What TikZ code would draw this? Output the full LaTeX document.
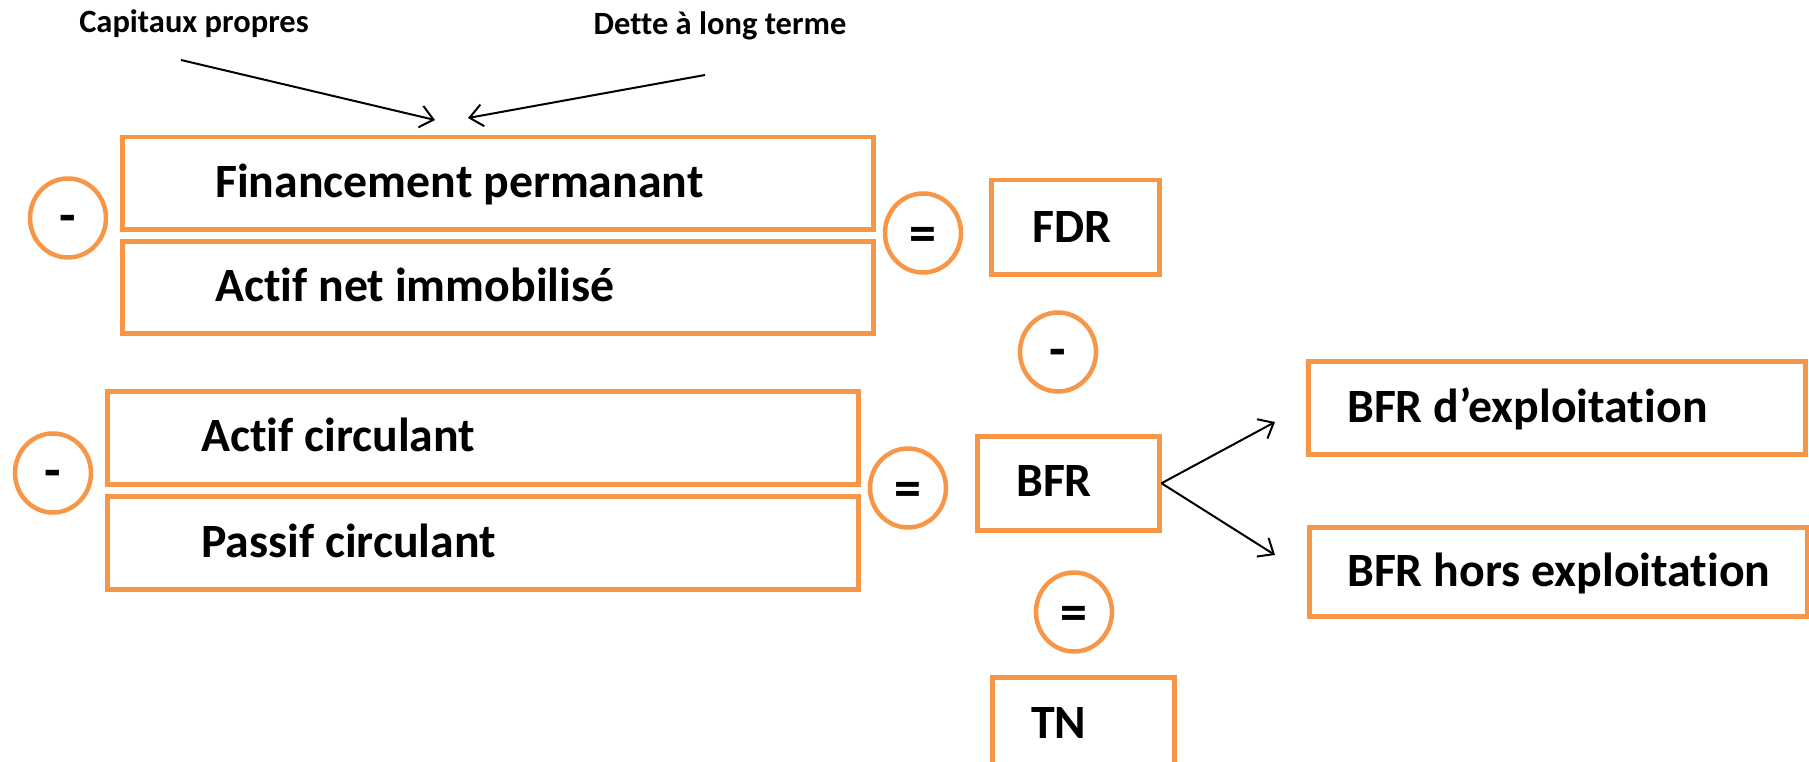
\documentclass[tikz,border=0pt]{standalone}
\usepackage{fontspec}
\setmainfont{Carlito}[Ligatures={NoCommon,NoRare,NoContextual}]
\usetikzlibrary{arrows.meta,shapes.geometric}
\definecolor{boxorange}{HTML}{F79646}
\begin{document}
\begin{tikzpicture}[x=1pt,y=-1pt,
  box/.style={draw=boxorange,line width=4.5pt,rectangle,inner sep=0pt,anchor=north west},
  opcircle/.style={draw=boxorange,line width=4.5pt,ellipse,minimum width=76pt,minimum height=79pt,inner sep=0pt},
  big/.style={font=\fontsize{47.8}{52}\selectfont\bfseries,anchor=base west,inner sep=0pt},
  small/.style={font=\fontsize{32.5}{36}\selectfont\bfseries,anchor=base,inner sep=0pt},
  op/.style={font=\fontsize{54}{58}\selectfont\bfseries,yshift=-6pt},
  conn/.style={draw=black,line width=2pt,-{Straight Barb[length=13pt,width=22pt,line width=2pt]}}
]
\useasboundingbox (0,0) rectangle (1809,762);
\clip (0,0) rectangle (1809,762);
% boxes
\node[box,minimum width=751pt,minimum height=92pt] (fp) at (120,135) {};
\node[box,minimum width=751pt,minimum height=92pt] (ani) at (120,239) {};
\node[box,minimum width=751pt,minimum height=93pt] (ac) at (105,389) {};
\node[box,minimum width=751pt,minimum height=93pt] (pc) at (105,494) {};
\node[box,minimum width=168pt,minimum height=94pt] (fdr) at (989,178) {};
\node[box,minimum width=182pt,minimum height=94pt] (bfr) at (975,434) {};
\node[box,minimum width=497pt,minimum height=93pt] (bfre) at (1306,359) {};
\node[box,minimum width=498pt,minimum height=89pt] (bfrh) at (1307,525) {};
\node[box,minimum width=182pt,minimum height=105pt] (tn) at (990,675) {};
% texts
\node[big] (tfp) at (215,198) {Financement permanant};
\node[big] (tani) at (215,301) {Actif net immobilisé};
\node[big] (tac) at (201,451) {Actif circulant};
\node[big] (tpc) at (201,557) {Passif circulant};
\node[big] (tfdr) at (1032,242) {FDR};
\node[big] (tbfr) at (1016,496) {BFR};
\node[big] (tbfre) at (1347,422) {BFR d’exploitation};
\node[big] (tbfrh) at (1347,586) {BFR hors exploitation};
\node[big] (ttn) at (1031,738) {TN};
\node[small] (cp) at (194,33) {Capitaux propres};
\node[small] (dlt) at (720,35) {Dette à long terme};
% operator circles
\node[opcircle] (m1) at (68,218) {};
\node[op] at (m1) {-};
\node[opcircle] (e1) at (923,233) {};
\node[op] at (e1) {=};
\node[opcircle] (m2) at (1058,352) {};
\node[op] at (m2) {-};
\node[opcircle] (m3) at (53,473) {};
\node[op] at (m3) {-};
\node[opcircle] (e2) at (908,488) {};
\node[op] at (e2) {=};
\node[opcircle] (e3) at (1074,612) {};
\node[op] at (e3) {=};
% connectors
\coordinate (cps) at (181,60);
\coordinate (cpe) at (435,120);
\coordinate (dls) at (705,75);
\coordinate (dle) at (468,118);
\coordinate (be) at (1275,422);
\coordinate (bh) at (1275,555);
\draw[conn] (cps) -- (cpe);
\draw[conn] (dls) -- (dle);
\draw[conn] (bfr.east) -- (be);
\draw[conn] (bfr.east) -- (bh);
\end{tikzpicture}
\end{document}
